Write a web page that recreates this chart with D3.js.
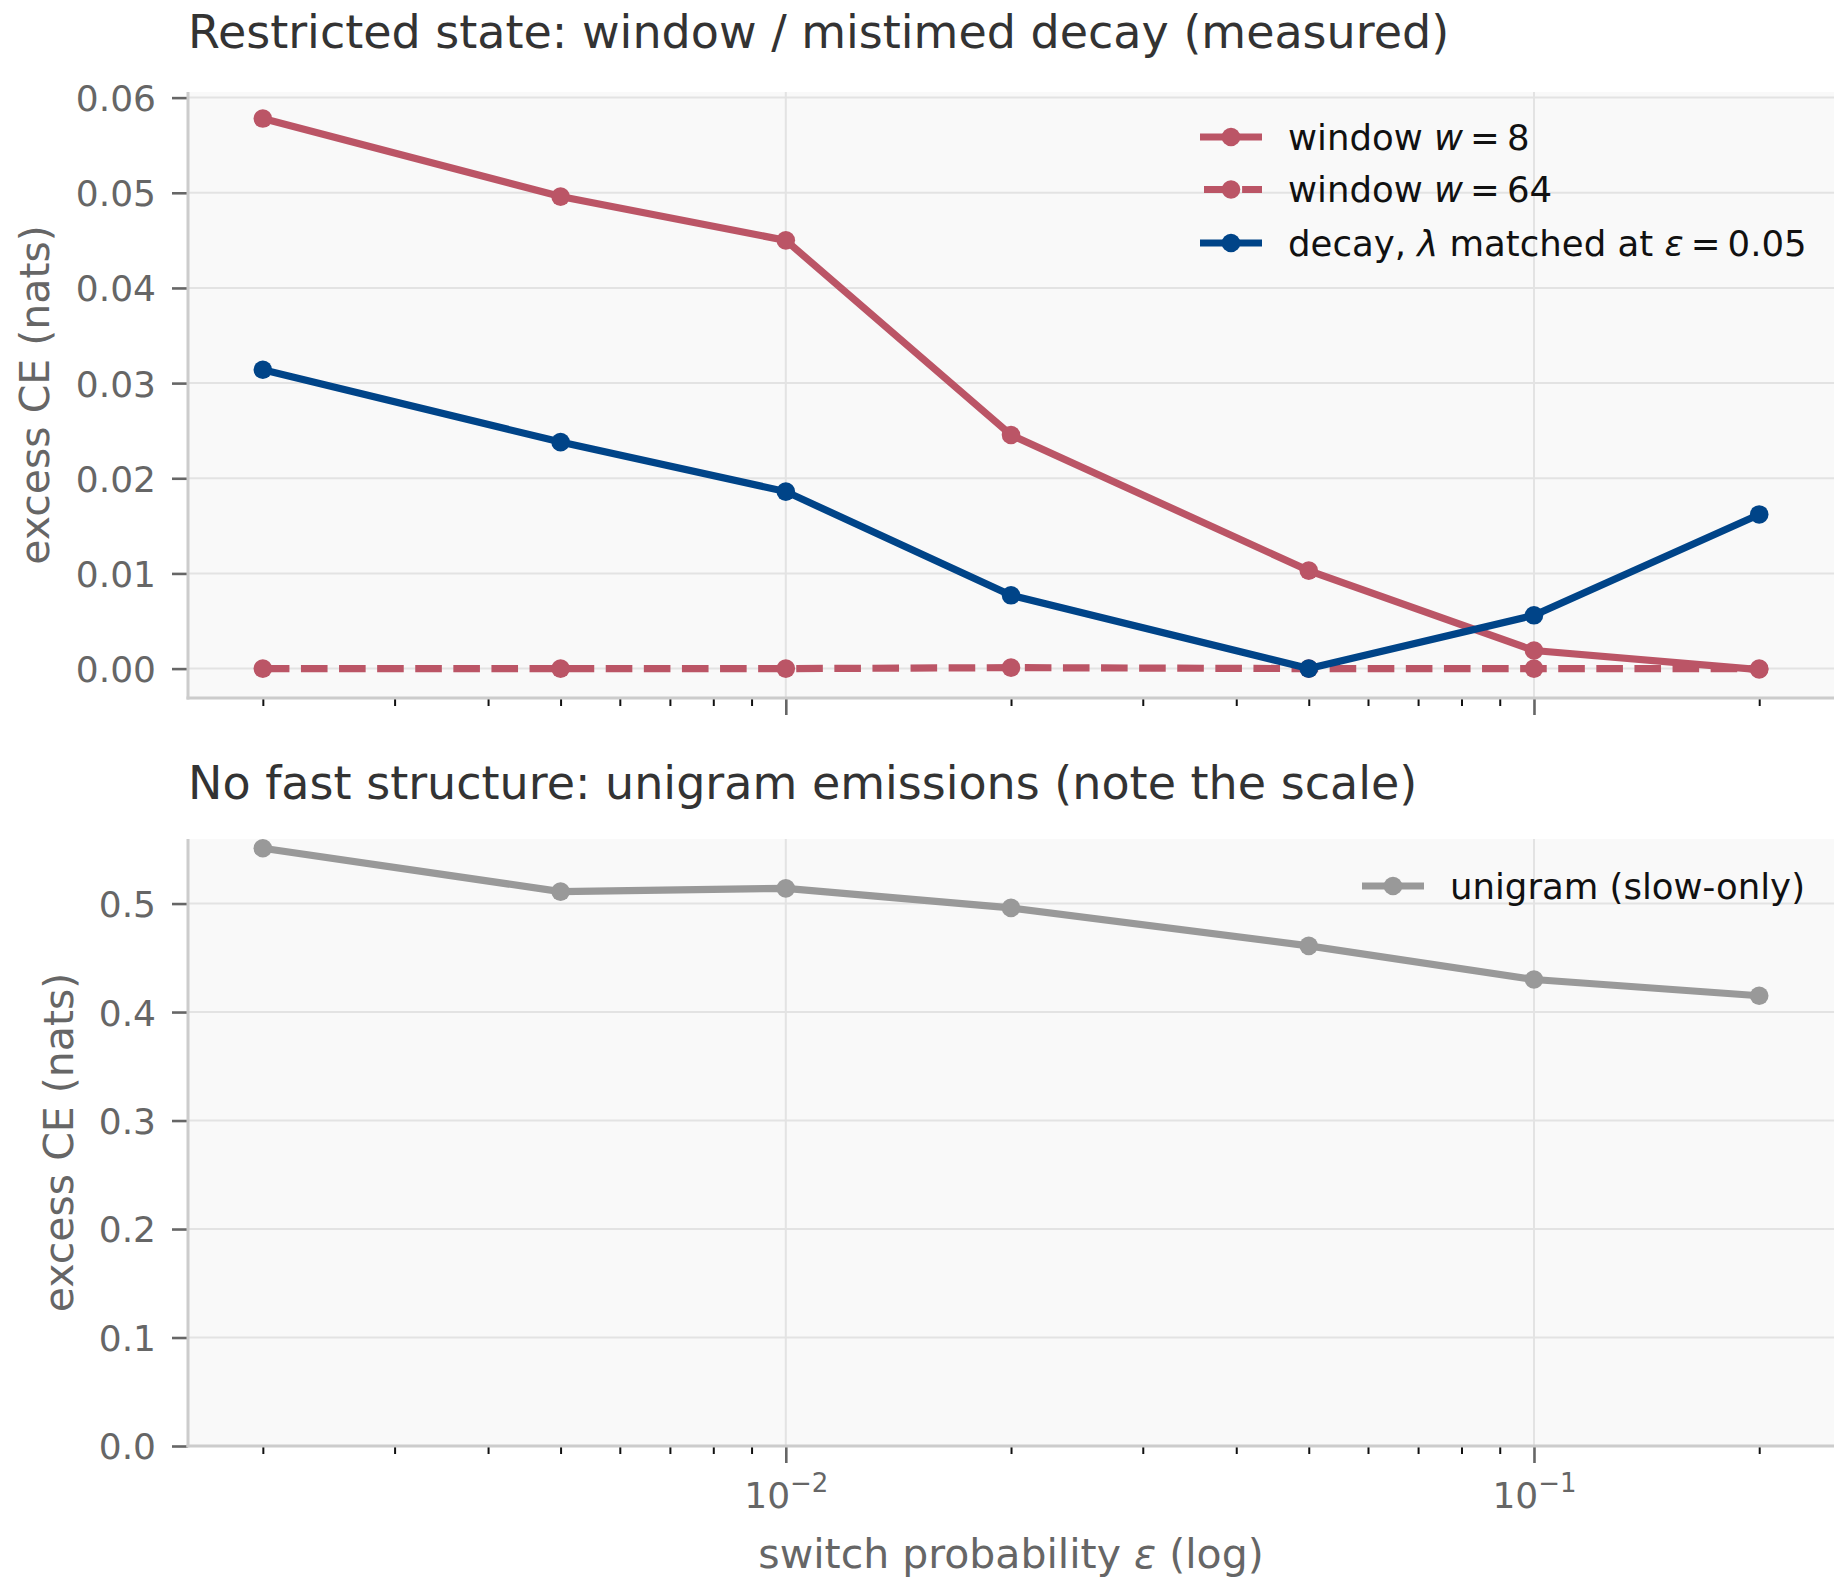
<!DOCTYPE html>
<html>
<head>
<meta charset="utf-8">
<script src="https://cdn.jsdelivr.net/npm/d3@7"></script>
<style>
  html, body { margin: 0; padding: 0; background: #ffffff; }
  svg { display: block; font-family: "DejaVu Sans", sans-serif; }
</style>
</head>
<body>
<svg id="chart" width="1848" height="1595"></svg>
<script>
// ---------------- data ----------------
const eps = [0.002, 0.005, 0.01, 0.02, 0.05, 0.1, 0.2];
const window8 = [0.0578, 0.0496, 0.0450, 0.02455, 0.0103, 0.0019, -0.0001];
const window64 = [0.0, 0.0, 0.0, 0.0001, 0.0, 0.0, 0.0];
const decay = [0.0314, 0.0238, 0.0186, 0.0077, 0.0, 0.0056, 0.0162];
const unigram = [0.551, 0.511, 0.514, 0.496, 0.461, 0.430, 0.415];

const topYTicks = [0.00, 0.01, 0.02, 0.03, 0.04, 0.05, 0.06];
const botYTicks = [0.0, 0.1, 0.2, 0.3, 0.4, 0.5];
const xMajorTicks = [0.01, 0.1];
const xMajorLabels = [["10", "\u22122"], ["10", "\u22121"]];
const xMinorTicks = [0.002, 0.003, 0.004, 0.005, 0.006, 0.007, 0.008, 0.009,
                     0.02, 0.03, 0.04, 0.05, 0.06, 0.07, 0.08, 0.09, 0.2];

const titleTop = "Restricted state: window / mistimed decay (measured)";
const titleBot = "No fast structure: unigram emissions (note the scale)";
const yLabel = "excess CE (nats)";

const RED = "#bb5566", BLUE = "#004488", GREY = "#999999";

// ---------------- layout ----------------
const svg = d3.select("#chart");
const L = 188, R = 1834;
const panels = [
  { top: 92, bottom: 698, yDomain: [-0.00309, 0.06059], ticks: topYTicks, fmt: d3.format(".2f"),
    title: titleTop, titleY: 48, ylabX: 34, showX: false },
  { top: 839, bottom: 1446, yDomain: [0, 0.5595], ticks: botYTicks, fmt: d3.format(".1f"),
    title: titleBot, titleY: 799, ylabX: 58, showX: true }
];

const x = d3.scaleLog().domain([Math.pow(10, -2.799), Math.pow(10, -0.599)]).range([L, R]);

panels.forEach((p, pi) => {
  const y = d3.scaleLinear().domain(p.yDomain).range([p.bottom, p.top]);
  p.y = y;
  const g = svg.append("g");

  g.append("rect").attr("x", L).attr("y", p.top).attr("width", R - L).attr("height", p.bottom - p.top)
    .attr("fill", "#f9f9f9");

  g.append("g").selectAll("line").data(p.ticks).join("line")
    .attr("x1", L).attr("x2", R).attr("y1", d => y(d)).attr("y2", d => y(d))
    .attr("stroke", "#e3e3e3").attr("stroke-width", 2);
  g.append("g").selectAll("line").data(xMajorTicks).join("line")
    .attr("x1", d => x(d)).attr("x2", d => x(d)).attr("y1", p.top).attr("y2", p.bottom)
    .attr("stroke", "#e3e3e3").attr("stroke-width", 2);

  const yAx = g.append("g").attr("transform", `translate(${L},0)`)
    .call(d3.axisLeft(y).tickValues(p.ticks).tickFormat(p.fmt).tickSize(16).tickPadding(16).tickSizeOuter(0));
  yAx.select(".domain").remove();
  yAx.selectAll(".tick line").attr("stroke", "#666666").attr("stroke-width", 2.6);
  yAx.selectAll(".tick text").attr("fill", "#666666").attr("font-size", 36)
    .attr("font-family", "DejaVu Sans").attr("dy", "0.36em");

  const xMin = g.append("g").attr("transform", `translate(0,${p.bottom})`)
    .call(d3.axisBottom(x).tickValues(xMinorTicks).tickFormat("").tickSize(8).tickSizeOuter(0));
  xMin.select(".domain").remove();
  xMin.selectAll(".tick line").attr("stroke", "#111111").attr("stroke-width", 2);

  const xMaj = g.append("g").attr("transform", `translate(0,${p.bottom})`)
    .call(d3.axisBottom(x).tickValues(xMajorTicks).tickFormat("").tickSize(17).tickPadding(12).tickSizeOuter(0));
  xMaj.select(".domain").remove();
  xMaj.selectAll(".tick line").attr("stroke", "#666666").attr("stroke-width", 2.6);
  if (p.showX) {
    xMaj.selectAll(".tick").each(function (d, i) {
      const t = d3.select(this).select("text");
      t.text(null).attr("y", 62).attr("dy", null).attr("fill", "#666666")
        .attr("font-size", 36).attr("font-family", "DejaVu Sans").attr("text-anchor", "middle");
      t.append("tspan").text(xMajorLabels[i][0]);
      t.append("tspan").attr("font-size", 26).attr("dy", -16).text(xMajorLabels[i][1]);
    });
  }

  g.append("line").attr("x1", L).attr("x2", L).attr("y1", p.top).attr("y2", p.bottom + 1.5)
    .attr("stroke", "#cccccc").attr("stroke-width", 3);
  g.append("line").attr("x1", L - 1.5).attr("x2", R).attr("y1", p.bottom).attr("y2", p.bottom)
    .attr("stroke", "#cccccc").attr("stroke-width", 3);

  svg.append("text").attr("x", L).attr("y", p.titleY).attr("fill", "#333333")
    .attr("font-size", 46).text(p.title);

  svg.append("text").attr("transform", `translate(${p.ylabX},${(p.top + p.bottom) / 2}) rotate(-90)`)
    .attr("text-anchor", "middle").attr("dy", "0.36em").attr("fill", "#666666")
    .attr("font-size", 41).text(yLabel);
});

// ---------------- series ----------------
function drawSeries(p, values, color, dashed) {
  const g = svg.append("g");
  const line = d3.line().x((d, i) => x(eps[i])).y(d => p.y(d));
  g.append("path").datum(values).attr("d", line).attr("fill", "none")
    .attr("stroke", color).attr("stroke-width", 7.2)
    .attr("stroke-dasharray", dashed ? "26.6,11.5" : null);
  g.selectAll("circle").data(values).join("circle")
    .attr("cx", (d, i) => x(eps[i])).attr("cy", d => p.y(d)).attr("r", 9.3).attr("fill", color);
}
drawSeries(panels[0], window8, RED, false);
drawSeries(panels[0], window64, RED, true);
drawSeries(panels[0], decay, BLUE, false);
drawSeries(panels[1], unigram, GREY, false);

// ---------------- x label ----------------
svg.append("text").attr("x", (L + R) / 2).attr("y", 1568).attr("text-anchor", "middle")
  .attr("fill", "#666666").attr("font-size", 41)
  .call(t => {
    t.append("tspan").text("switch probability ");
    t.append("tspan").attr("font-style", "italic").text("\u03b5");
    t.append("tspan").text(" (log)");
  });

// ---------------- legends ----------------
function legendRow(lx, ly, color, dashed, parts) {
  const g = svg.append("g");
  g.append("line").attr("x1", lx).attr("x2", lx + 62).attr("y1", ly).attr("y2", ly)
    .attr("stroke", color).attr("stroke-width", 7.2)
    .attr("stroke-dasharray", dashed ? "26.6,11.5" : null)
    .attr("stroke-dashoffset", dashed ? -4 : null);
  g.append("circle").attr("cx", lx + 31).attr("cy", ly).attr("r", 9.3).attr("fill", color);
  const t = g.append("text").attr("x", lx + 88).attr("y", ly + 12.5).attr("fill", "#111111")
    .attr("font-size", 35.5);
  parts.forEach(pt => {
    const s = t.append("tspan").text(pt[0]);
    if (pt[1]) s.attr("font-style", "italic");
  });
}
const EQ = "\u2009=\u2009";
legendRow(1200, 137, RED, false, [["window "], ["w", 1], [EQ + "8"]]);
legendRow(1200, 189.5, RED, true, [["window "], ["w", 1], [EQ + "64"]]);
legendRow(1200, 243, BLUE, false, [["decay, "], ["\u03bb", 1], [" matched at "], ["\u03b5", 1], [EQ + "0.05"]]);
legendRow(1362, 886, GREY, false, [["unigram (slow-only)"]]);
</script>
</body>
</html>
